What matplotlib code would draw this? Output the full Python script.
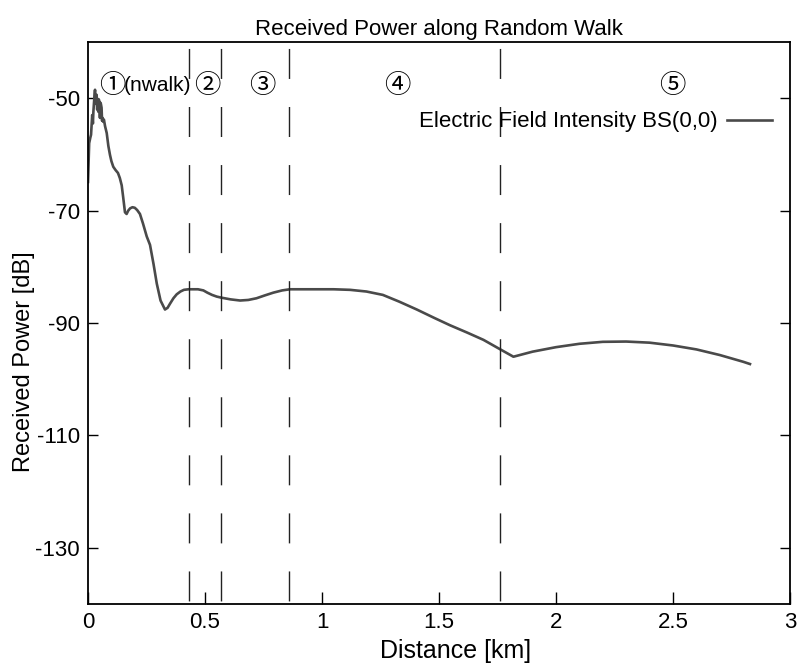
import numpy as np
import matplotlib
matplotlib.use("Agg")
import matplotlib.pyplot as plt
from matplotlib import font_manager

# distance [km] and received power [dB]
distance = [0.0, 0.005, 0.010, 0.013, 0.018, 0.021, 0.023, 0.027, 0.030, 0.032,
            0.034, 0.037, 0.039, 0.041, 0.044, 0.046, 0.048, 0.051, 0.053, 0.055,
            0.058, 0.060, 0.062, 0.065, 0.068, 0.073, 0.080, 0.087, 0.094, 0.100,
            0.108, 0.118, 0.128, 0.136, 0.144, 0.150, 0.158, 0.165, 0.172, 0.180,
            0.190, 0.200, 0.210, 0.222, 0.235, 0.251, 0.265, 0.280, 0.294, 0.310,
            0.329, 0.340, 0.350, 0.365, 0.379, 0.395, 0.410, 0.430, 0.450, 0.470,
            0.493, 0.510, 0.530, 0.550, 0.571, 0.610, 0.650, 0.685, 0.720, 0.755,
            0.792, 0.830, 0.863, 0.920, 0.977, 1.050, 1.120, 1.190, 1.260, 1.330,
            1.405, 1.480, 1.547, 1.620, 1.690, 1.758, 1.818, 1.900, 2.000, 2.100,
            2.200, 2.300, 2.400, 2.500, 2.600, 2.700, 2.800, 2.829]
power = [-64.9, -58.0, -57.0, -56.5, -53.0, -54.5, -52.4, -50.0, -48.5, -51.0,
         -50.5, -49.4, -52.0, -51.5, -52.4, -50.2, -50.5, -53.5, -50.8, -51.0,
         -51.7, -54.0, -53.5, -54.2, -53.8, -55.0, -56.2, -58.5, -60.1, -61.2,
         -62.2, -62.8, -63.3, -64.2, -65.5, -67.5, -70.3, -70.6, -70.0, -69.6,
         -69.4, -69.5, -69.9, -70.6, -72.3, -74.6, -76.1, -79.5, -83.0, -86.0,
         -87.6, -87.3, -86.6, -85.6, -84.9, -84.4, -84.1, -84.0, -84.0, -84.0,
         -84.2, -84.6, -85.0, -85.3, -85.5, -85.8, -86.0, -85.9, -85.6, -85.1,
         -84.6, -84.2, -84.0, -84.0, -84.0, -84.0, -84.1, -84.4, -85.0, -86.2,
         -87.6, -89.1, -90.4, -91.7, -93.0, -94.6, -96.0, -95.1, -94.3, -93.7,
         -93.35, -93.3, -93.5, -94.0, -94.7, -95.7, -96.9, -97.3]

# section boundaries of the walk
boundaries = [0.432, 0.568, 0.861, 1.759]
section_marks = ["\u2460", "\u2461", "\u2462", "\u2463", "\u2464"]
section_x = [0.103, 0.509, 0.744, 1.32, 2.496]

names = {f.name for f in font_manager.fontManager.ttflist}
narrow = "Liberation Sans Narrow" if "Liberation Sans Narrow" in names else "Liberation Sans"

plt.rcParams["font.family"] = ["Liberation Sans", "Noto Sans CJK JP", "DejaVu Sans"]

fig = plt.figure(figsize=(7.99, 6.69), dpi=100)
ax = fig.add_axes([88 / 799, 65 / 669, 702 / 799, 562 / 669])

ax.plot(distance, power, color="#4a4a4a", lw=1.9,
        label="Electric Field Intensity BS(0,0)")

for b in boundaries:
    ax.plot([b, b], [-140, -40], color="#222222", lw=1.0,
            linestyle=(39.6, (21.6, 20.2)))

for lab, x in zip(section_marks, section_x):
    ax.text(x, -47.7, lab, ha="center", va="center", fontsize=19,
            family=["Noto Sans CJK JP", "DejaVu Sans"])
ax.text(0.152, -47.7, "(nwalk)", ha="left", va="center", fontsize=15)

ax.set_xlim(0, 3)
ax.set_ylim(-140, -40)
ax.set_xticks([0, 0.5, 1, 1.5, 2, 2.5, 3])
ax.set_xticklabels(["0", "0.5", "1", "1.5", "2", "2.5", "3"])
ax.set_yticks([-50, -70, -90, -110, -130])
ax.set_yticklabels(["-50", "-70", "-90", "-110", "-130"])
ax.tick_params(direction="in", right=True, width=1, labelsize=16)
ax.tick_params(axis="y", length=7, pad=6)
ax.tick_params(axis="x", length=9, pad=6)
for t in ax.get_xticklabels() + ax.get_yticklabels():
    t.set_fontfamily(narrow)
for s in ax.spines.values():
    s.set_linewidth(1.3)

ax.set_xlabel("Distance [km]", fontsize=18)
ax.xaxis.set_label_coords(0.524, -0.063)
ax.set_ylabel("Received Power [dB]", fontsize=17)
ax.yaxis.set_label_coords(-0.076, 0.432)
ax.set_title("Received Power along Random Walk", fontsize=16, pad=5)

ax.legend(loc="center right", bbox_to_anchor=(0.974, 0.858), frameon=False,
          markerfirst=False, borderpad=0, borderaxespad=0, handlelength=2.0,
          handletextpad=0.45, fontsize=16)

fig.savefig("out.png", dpi=100)
